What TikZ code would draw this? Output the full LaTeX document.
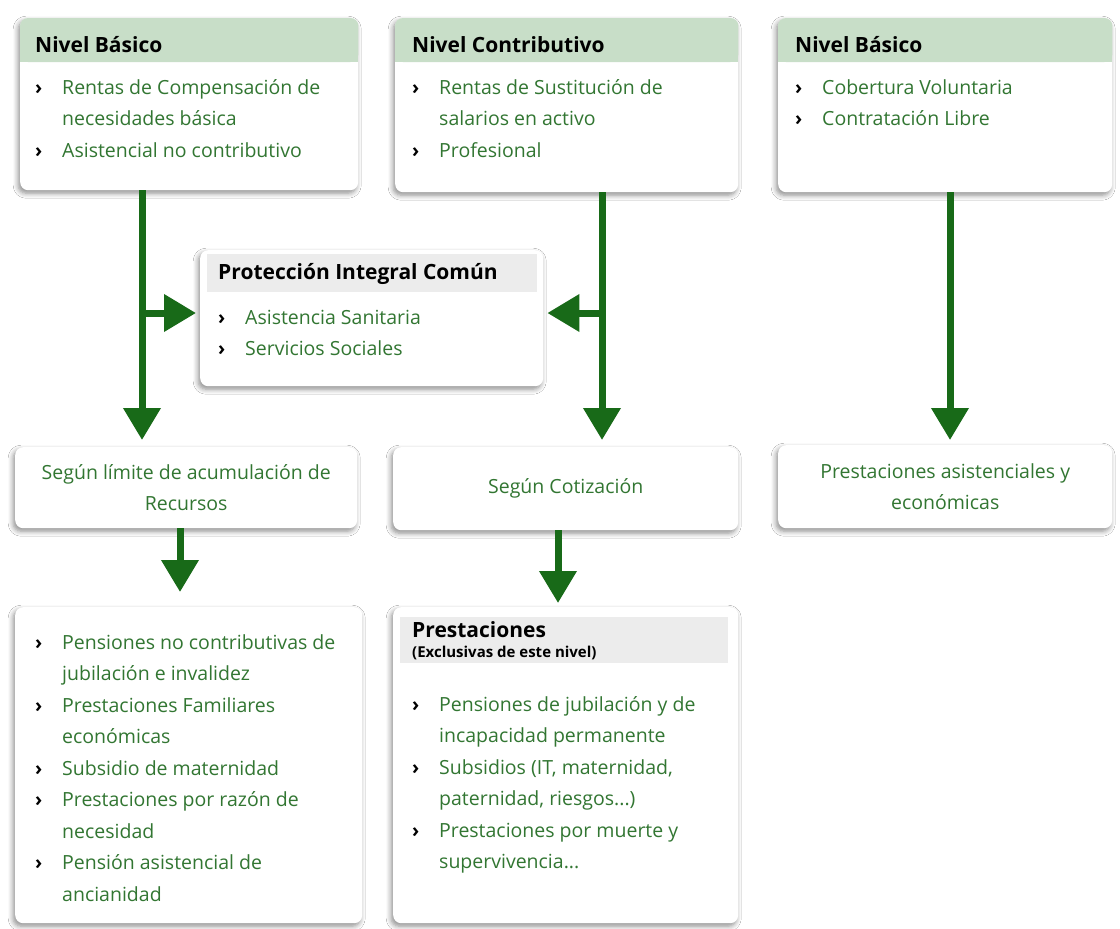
\documentclass[tikz,border=0pt]{standalone}
\usepackage{fontspec}
\setmainfont{Open Sans}
\usetikzlibrary{arrows.meta,shadows.blur,calc}
\definecolor{arrowgreen}{RGB}{24,106,24}
\definecolor{txtgreen}{RGB}{50,118,50}
\definecolor{hdrgreen}{RGB}{200,222,200}
\definecolor{hdrgrey}{RGB}{236,236,236}
\newcommand\bul{\makebox[27pt][l]{\color{black}\bfseries ›}}
\newcommand\ind{\hspace*{27pt}}
\newcommand\lst[1]{\parbox[t]{320pt}{\raggedright #1}}
\begin{document}
\begin{tikzpicture}[x=1pt,y=-1pt,
  box/.style={fill=white, rounded corners=8pt, inner sep=0pt, anchor=north west,
    blur shadow={shadow xshift=-2pt, shadow yshift=-3pt, shadow blur steps=6, shadow opacity=45, shadow blur radius=5pt}},
  title/.style={anchor=base west, inner sep=0pt, font=\fontsize{21}{26}\selectfont\bfseries},
  items/.style={anchor=base west, inner sep=0pt, text=txtgreen, font=\fontsize{19.5}{31.5}\selectfont},
  plain/.style={anchor=center, inner sep=0pt, align=center, text=txtgreen, font=\fontsize{19.5}{31.5}\selectfont},
  bigarrow/.style={draw=arrowgreen, line width=7pt, -{Triangle[width=36pt,length=32pt]}},
]
\useasboundingbox (0,0) rectangle (1120,929);
\fill[white] (0,0) rectangle (1120,929);

% boxes
\node[box, minimum width=338pt, minimum height=172pt] (tl) at (20,18) {};
\node[box, minimum width=343pt, minimum height=174pt] (tm) at (395,18) {};
\node[box, minimum width=334pt, minimum height=174pt] (tr) at (778,18) {};
\node[box, minimum width=343pt, minimum height=136pt] (pc) at (200,250) {};
\node[box, minimum width=342pt, minimum height=81pt] (ml) at (15,447) {};
\node[box, minimum width=345pt, minimum height=83pt] (mm) at (393,447) {};
\node[box, minimum width=334pt, minimum height=83pt] (mr) at (778,445) {};
\node[box, minimum width=347pt, minimum height=316pt] (bl) at (15,607) {};
\node[box, minimum width=345pt, minimum height=316pt] (bm) at (393,607) {};

% headers
\foreach \b in {tl,tm,tr}{
  \fill[hdrgreen, rounded corners=8pt] (\b.north west) rectangle ([yshift=-44pt]\b.north east);
  \fill[hdrgreen] ([yshift=-20pt]\b.north west) rectangle ([yshift=-44pt]\b.north east);
}
\fill[hdrgrey] (207,254) rectangle (537,292);
\fill[hdrgrey] (400,617) rectangle (728,663);

% texts
\node[title] (tlt) at (35,52) {Nivel Básico};
\node[items] (tli) at (35,94) {\lst{\bul Rentas de Compensación de\\\ind necesidades básica\\\bul Asistencial no contributivo}};
\node[title] (tmt) at (412,52) {Nivel Contributivo};
\node[items] (tmi) at (412,94) {\lst{\bul Rentas de Sustitución de\\\ind salarios en activo\\\bul Profesional}};
\node[title] (trt) at (795,52) {Nivel Básico};
\node[items] (tri) at (795,94) {\lst{\bul Cobertura Voluntaria\\\bul Contratación Libre}};
\node[title] (pct) at (218,279) {Protección Integral Común};
\node[items] (pci) at (218,324) {\lst{\bul Asistencia Sanitaria\\\bul Servicios Sociales}};
\node[plain] (mlt) at (ml.center) {Según límite de acumulación de\\Recursos};
\node[plain] (mmt) at (mm.center) {Según Cotización};
\node[plain] (mrt) at (mr.center) {Prestaciones asistenciales y\\económicas};
\node[items] (bli) at (35,649) {\lst{\bul Pensiones no contributivas de\\\ind jubilación e invalidez\\\bul Prestaciones Familiares\\\ind económicas\\\bul Subsidio de maternidad\\\bul Prestaciones por razón de\\\ind necesidad\\\bul Pensión asistencial de\\\ind ancianidad}};
\node[title, font=\fontsize{21}{24}\selectfont\bfseries] (bmt) at (412,637) {Prestaciones};
\node[title, font=\fontsize{15}{16}\selectfont\bfseries] (bms) at (412,657) {(Exclusivas de este nivel)};
\node[items] (bmi) at (412,711) {\lst{\bul Pensiones de jubilación y de\\\ind incapacidad permanente\\\bul Subsidios (IT, maternidad,\\\ind paternidad, riesgos...)\\\bul Prestaciones por muerte y\\\ind supervivencia...}};

% arrows
\coordinate (xa) at (142,0);
\coordinate (xb) at (602,0);
\coordinate (xc) at (950,0);
\coordinate (xd) at (180,0);
\coordinate (xe) at (558,0);
\coordinate (ja) at (142,313);
\coordinate (jb) at (602,313);
\draw[bigarrow, shorten >=7pt] (xa |- tl.south) -- (xa |- ml.north);
\draw[bigarrow, shorten >=4pt] (ja) -- (ja -| pc.west);
\draw[bigarrow, shorten >=7pt] (xb |- tm.south) -- (xb |- mm.north);
\draw[bigarrow, shorten >=4pt] (jb) -- (jb -| pc.east);
\draw[bigarrow, shorten >=5pt] (xc |- tr.south) -- (xc |- mr.north);
\draw[bigarrow, shorten >=15pt] (xd |- ml.south) -- (xd |- bl.north);
\draw[bigarrow, shorten >=4pt] (xe |- mm.south) -- (xe |- bm.north);
\end{tikzpicture}
\end{document}
